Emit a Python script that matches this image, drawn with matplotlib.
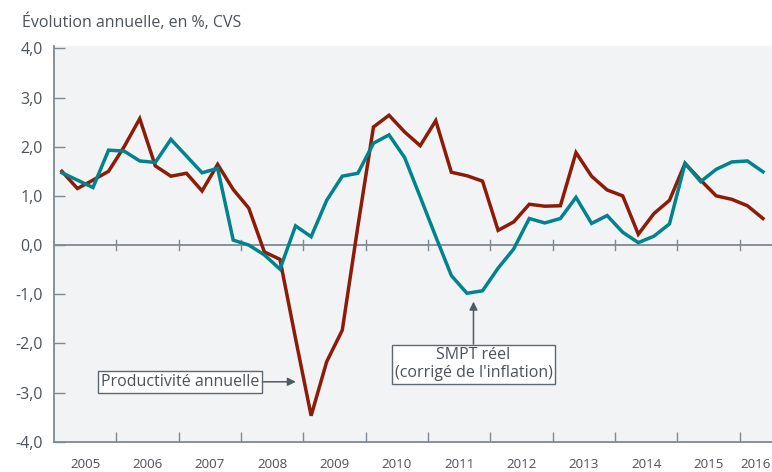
import numpy as np
import matplotlib
matplotlib.use('Agg')
from matplotlib import pyplot as plt

# trimestres 2005T1 .. 2016T2
years = list(range(2005, 2017))
n_quarters = 46

productivite = [1.50, 1.15, 1.32, 1.50, 2.00, 2.57, 1.61, 1.40, 1.46, 1.10,
                1.64, 1.13, 0.75, -0.14, -0.29, -1.90, -3.47, -2.37, -1.73, 0.38,
                2.40, 2.64, 2.30, 2.02, 2.53, 1.48, 1.41, 1.30, 0.30, 0.47,
                0.83, 0.79, 0.80, 1.88, 1.40, 1.12, 1.00, 0.22, 0.64, 0.91,
                1.66, 1.32, 1.00, 0.93, 0.80, 0.54]
smpt_reel = [1.47, 1.32, 1.17, 1.93, 1.91, 1.71, 1.68, 2.15, 1.81, 1.47,
             1.56, 0.10, 0.00, -0.20, -0.49, 0.39, 0.17, 0.91, 1.40, 1.46,
             2.07, 2.24, 1.78, 0.98, 0.17, -0.62, -0.98, -0.93, -0.47, -0.08,
             0.54, 0.45, 0.54, 0.97, 0.44, 0.60, 0.26, 0.05, 0.18, 0.43,
             1.66, 1.29, 1.54, 1.69, 1.71, 1.49]
y_ticks = [4, 3, 2, 1, 0, -1, -2, -3, -4]

RED = '#8c1c08'
TEAL = '#00838c'
GREY = '#7f8993'
TXT = '#4b5259'
BG = '#f2f3f5'

plt.rcParams['font.family'] = ['Open Sans', 'DejaVu Sans']

x = np.array([2005 + (i + 0.5) / 4 for i in range(n_quarters)])

fig = plt.figure(figsize=(7.72, 4.72), dpi=100)
ax = fig.add_axes([0.070, 0.064, 0.930, 0.8385])
ax.set_facecolor(BG)

ax.axhline(0, color=GREY, lw=1.3, zorder=1)
for yr in years[1:]:
    ax.plot([yr, yr], [-0.1, 0.1], color=GREY, lw=1.0, zorder=1)

ax.plot(x, productivite, color=RED, lw=2.5, solid_joinstyle='miter', zorder=3)
ax.plot(x, smpt_reel, color=TEAL, lw=2.5, solid_joinstyle='miter', zorder=3)

ax.set_xlim(2005, 2016.52)
ax.set_ylim(-4, 4.047)

for s in ['top', 'right']:
    ax.spines[s].set_visible(False)
for s in ['left', 'bottom']:
    ax.spines[s].set_color(GREY)
    ax.spines[s].set_linewidth(1.3)

ax.set_yticks(y_ticks)
ax.set_yticklabels([('%.1f' % v).replace('.', ',') for v in y_ticks])
ax.tick_params(axis='y', direction='in', length=8, width=1.0, color=GREY,
               labelsize=11.5, labelcolor=TXT, pad=8)

ax.set_xticks(years[1:])
ax.set_xticklabels([])
ax.tick_params(axis='x', which='major', direction='in', length=7, width=1.0, color=GREY)
label_pos = [y + 0.5 for y in years[:-1]] + [2016.26]
ax.set_xticks(label_pos, minor=True)
ax.set_xticklabels([str(y) for y in years], minor=True)
ax.tick_params(axis='x', which='minor', length=0, labelsize=9.6, labelcolor=TXT, pad=12)

box = dict(boxstyle='square,pad=0.18', fc='white', ec='#5d6770', lw=1.0)
arrow = dict(arrowstyle='-|>', color='#4f5a63', lw=1.1, mutation_scale=12,
             shrinkA=0, shrinkB=0)
ax.annotate('Productivité annuelle', xy=(2008.88, -2.78), xytext=(2007.02, -2.78),
            ha='center', va='center', fontsize=11.5, color=TXT,
            bbox=box, arrowprops=arrow, zorder=5)
ax.annotate("SMPT réel\n(corrigé de l'inflation)", xy=(2011.73, -1.15),
            xytext=(2011.73, -2.42), ha='center', va='center', fontsize=11.5,
            color=TXT, linespacing=1.1, bbox=box, arrowprops=arrow, zorder=5)

fig.text(0.029, 0.953, 'Évolution annuelle, en %, CVS', fontsize=11.5,
         color=TXT, ha='left', va='center')

fig.savefig('out.png', dpi=100)
